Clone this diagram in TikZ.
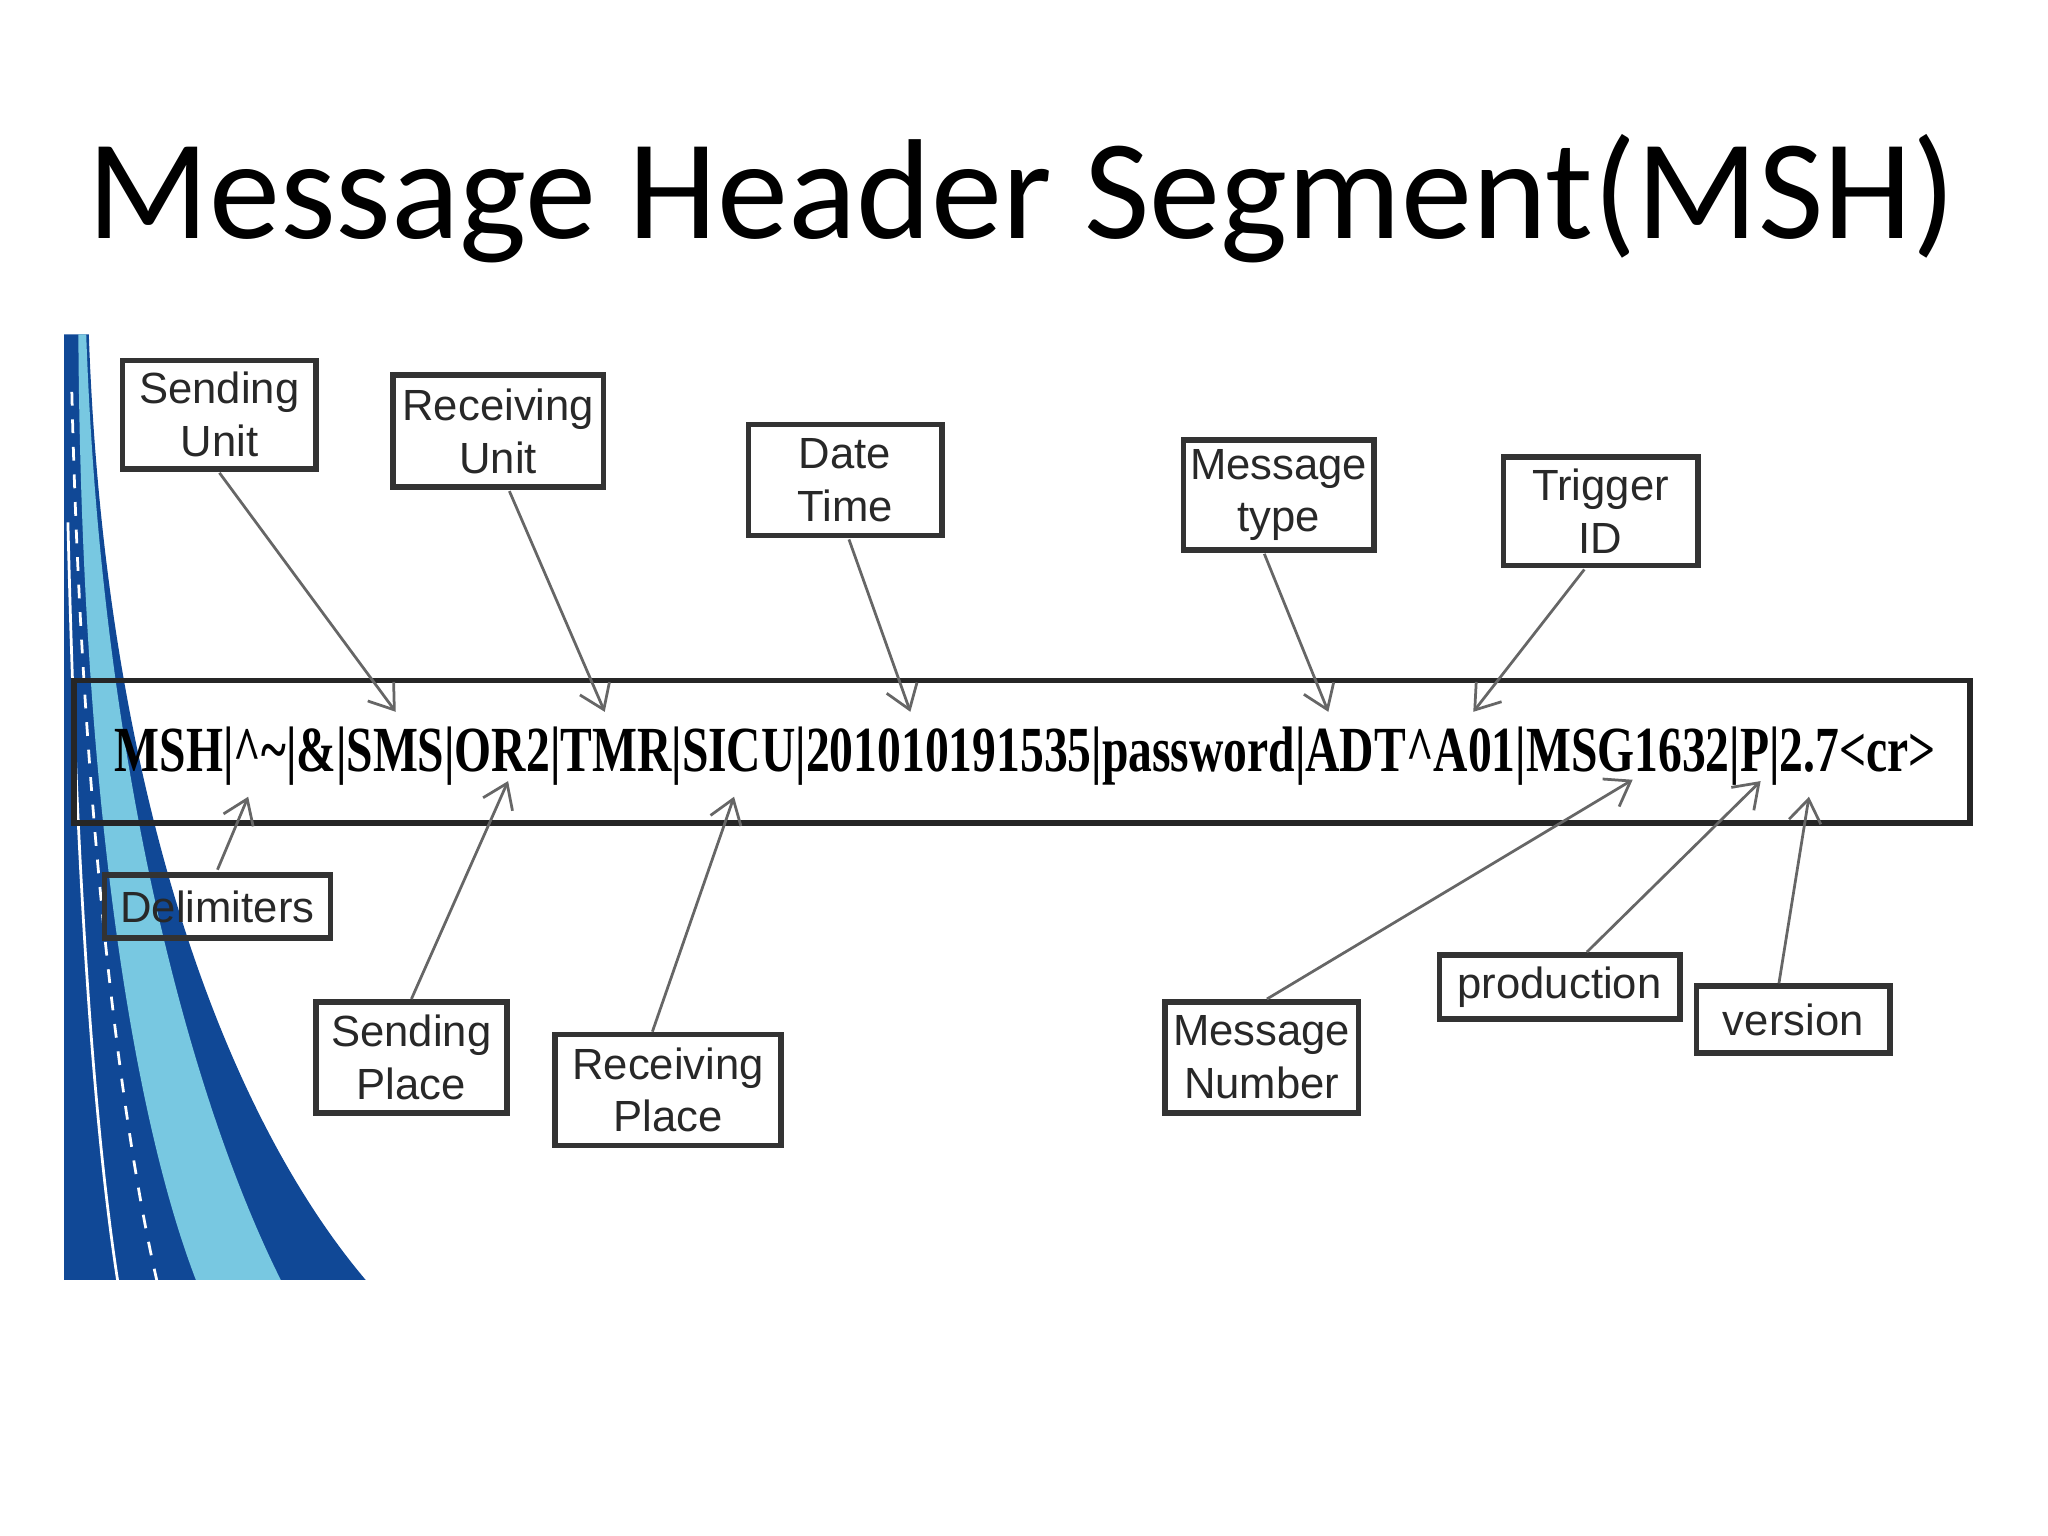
\documentclass[tikz,border=0pt]{standalone}
\usepackage{fontspec}
\setmainfont{Carlito}
\newfontfamily\arialf{Liberation Sans}
\newfontfamily\timesf{Liberation Serif}
\usetikzlibrary{arrows.meta}
\definecolor{dkblue}{RGB}{16,72,150}
\definecolor{ltblue}{RGB}{120,200,225}
\definecolor{txtgray}{RGB}{40,40,40}
\begin{document}
\begin{tikzpicture}[x=0.01cm,y=-0.01cm,
  lbl/.style={draw=black!80,line width=1.2pt,fill=white,align=center,font=\arialf\fontsize{9.5}{11.5}\selectfont,text=txtgray,inner sep=0pt},
  conn/.style={draw=black!60,line width=0.6pt,-{Straight Barb[length=5pt,width=7pt]}}]
\useasboundingbox (0,0) rectangle (1568,1176);
% decoration
\fill[dkblue] (49,256) -- (68,256) .. controls (80,600) and (170,850) .. (280,980) -- (49,980) -- cycle;
\fill[ltblue] (60,256) -- (66,256) .. controls (78,600) and (150,850) .. (215,980) -- (150,980) .. controls (100,850) and (62,600) .. (60,256) -- cycle;
\draw[white,line width=0.6pt,dashed] (55,300) .. controls (62,600) and (90,850) .. (120,980);
\draw[white,line width=0.6pt] (52,400) .. controls (58,650) and (70,850) .. (90,980);
% title
\node (title) at (782,152) {\fontsize{31}{36}\selectfont Message Header Segment(MSH)};
% main box
\node[draw=black!85,line width=1.2pt,minimum width=14.51cm,minimum height=1.09cm,inner sep=0pt,fill=white,fill opacity=0.0] (main) at (782.5,575.5) {};
\node[inner sep=0pt] (msg) at (785,579) {\scalebox{0.74}[1]{\timesf\bfseries\fontsize{14}{14}\selectfont MSH|\textasciicircum\textasciitilde|\&|SMS|OR2|TMR|SICU|201010191535|password|ADT\textasciicircum A01|MSG1632|P|2.7<cr>}};
% label boxes
\node[lbl,minimum width=1.48cm,minimum height=0.83cm] (su) at (168,317.5) {Sending\\Unit};
\node[lbl,minimum width=1.61cm,minimum height=0.86cm] (ru) at (381.5,330) {Receiving\\Unit};
\node[lbl,minimum width=1.48cm,minimum height=0.85cm] (dt) at (647,367.5) {Date\\Time};
\node[lbl,minimum width=1.46cm,minimum height=0.84cm] (mt) at (979,379) {Message\\type};
\node[lbl,minimum width=1.49cm,minimum height=0.83cm] (tid) at (1225.5,391.5) {Trigger\\ID};
\node[lbl,minimum width=1.73cm,minimum height=0.48cm,fill=none] (dl) at (166.5,694) {Delimiters};
\node[lbl,minimum width=1.46cm,minimum height=0.85cm] (sp) at (315,809.5) {Sending\\Place};
\node[lbl,minimum width=1.73cm,minimum height=0.85cm] (rp) at (511.5,834.5) {Receiving\\Place};
\node[lbl,minimum width=1.48cm,minimum height=0.85cm] (mn) at (966,809.5) {Message\\Number};
\node[lbl,minimum width=1.84cm,minimum height=0.49cm] (pr) at (1194,755.5) {production};
\node[lbl,minimum width=1.48cm,minimum height=0.51cm] (ve) at (1373,780.5) {version};
% endpoints
\coordinate (e1) at (303,545);
\coordinate (e2) at (463,545);
\coordinate (e3) at (697,545);
\coordinate (e4) at (1017,545);
\coordinate (e5) at (1128,545);
\coordinate (e6) at (190,610);
\coordinate (e7) at (389,598);
\coordinate (e8) at (562,610);
\coordinate (e9) at (1250,597);
\coordinate (e10) at (1348,598);
\coordinate (e11) at (1385,610);
\draw[conn] (168,362) -- (e1);
\draw[conn] (390,376) -- (e2);
\draw[conn] (650,413) -- (e3);
\draw[conn] (968,424) -- (e4);
\draw[conn] (1213,436) -- (e5);
\draw[conn] (dl.north) ++(0,-2) -- (e6);
\draw[conn] (sp.north) -- (e7);
\draw[conn] (rp.north) ++(-12,0) -- (e8);
\draw[conn] (mn.north) ++(4,0) -- (e9);
\draw[conn] (pr.north) ++(21,0) -- (e10);
\draw[conn] (ve.north) ++(-11,0) -- (e11);
\end{tikzpicture}
\end{document}
